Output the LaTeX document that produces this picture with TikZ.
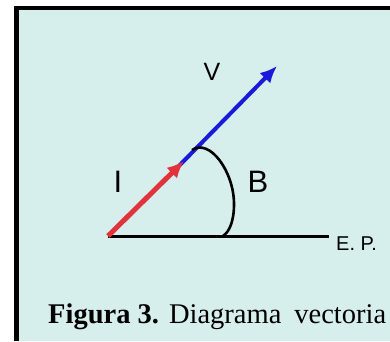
\documentclass[tikz,border=0pt]{standalone}
\usepackage{fontspec}
\setmainfont{Liberation Serif}
\setsansfont{Liberation Sans}
\usetikzlibrary{arrows.meta}
\definecolor{panel}{HTML}{D6EEEC}
\definecolor{vecred}{HTML}{E2333C}
\definecolor{vecblue}{HTML}{1A1ADB}

\begin{document}
\begin{tikzpicture}[
  x=1pt, y=-1pt,
  vlabel/.style={font=\sffamily\fontsize{31}{31}\selectfont, inner sep=0pt},
  redvec/.style={-{Latex[length=17pt,width=15pt]}, line width=5pt, vecred},
  bluevec/.style={-{Latex[length=17pt,width=15pt]}, line width=4pt, vecblue},
  axis/.style={line width=3pt, black}
]
  \clip (0,0) rectangle (390,341);
  \fill[white] (0,0) rectangle (390,341);
  \fill[black] (14,6) rectangle (390,341);
  \fill[panel] (19,10) rectangle (390,341);

  \coordinate (O) at (108,236);
  \coordinate (M) at (184,161);
  \coordinate (S) at (172,173);
  \coordinate (T) at (277,66);
  \coordinate (E) at (329,236);

  \draw[axis] (O) -- (E);
  \draw[bluevec] (S) -- (T);
  \draw[redvec] (O) -- (M);
  \draw[line width=2.6pt] (192,150) .. controls (210,138) and (234,172) .. (234,204)
    .. controls (234,222) and (229,232) .. (223,236);

  \node[vlabel, font=\sffamily\fontsize{25}{25}\selectfont] (v) at (212,72) {V};
  \node[vlabel] (i) at (118,182) {I};
  \node[vlabel] (b) at (258,182) {B};
  \node[font=\sffamily\fontsize{20}{20}\selectfont, inner sep=0pt, anchor=west] (ep) at (336,244) {E.\ P.};

  \node[anchor=base west, inner sep=0pt, font=\fontsize{28.5}{28.5}\selectfont] (cap) at (48,323)
    {\textbf{Figura 3.}\hspace{10pt}Diagrama\hspace{13pt}vectoria};
\end{tikzpicture}
\end{document}
